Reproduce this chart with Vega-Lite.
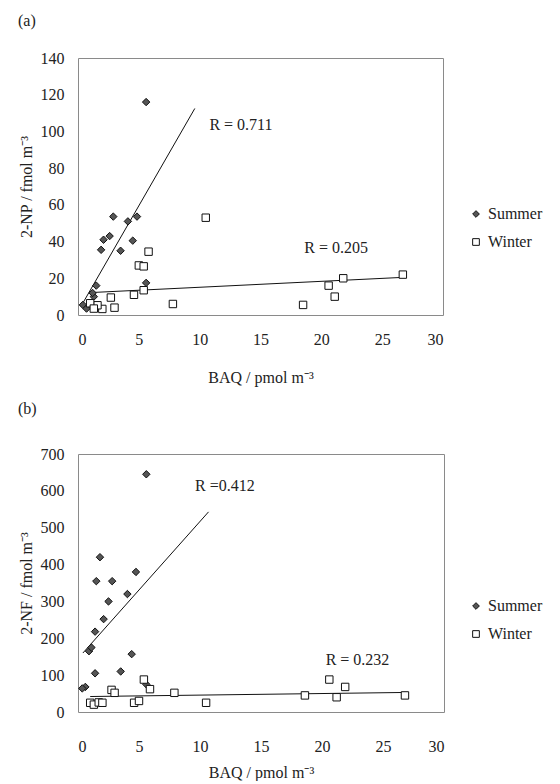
{
  "$schema": "https://vega.github.io/schema/vega-lite/v6.json",
  "background": "white",
  "padding": {"left": 17, "top": 12, "right": 0, "bottom": 0},
  "spacing": 14,
  "config": {
    "font": "Liberation Serif",
    "view": {"stroke": "#8a8a8a", "strokeWidth": 1},
    "axis": {"grid": false, "domain": false, "ticks": false, "labelOverlap": false, "labelFont": "Liberation Serif", "titleFont": "Liberation Serif", "labelFontSize": 16, "titleFontSize": 16, "titleFontWeight": "normal", "labelColor": "#222", "titleColor": "#222"},
    "legend": {"labelFont": "Liberation Serif", "labelFontSize": 16, "labelColor": "#222"},
    "title": {"font": "Liberation Serif", "fontSize": 16, "fontWeight": "normal", "color": "#222", "anchor": "start", "frame": "bounds"}
  },
  "datasets": {
    "points": [
      {"panel": "a", "season": "Summer", "baq": 5.6, "val": 116},
      {"panel": "a", "season": "Summer", "baq": 2.9, "val": 53.6},
      {"panel": "a", "season": "Summer", "baq": 4.85, "val": 53.6},
      {"panel": "a", "season": "Summer", "baq": 4.1, "val": 51},
      {"panel": "a", "season": "Summer", "baq": 2.1, "val": 41},
      {"panel": "a", "season": "Summer", "baq": 2.6, "val": 43},
      {"panel": "a", "season": "Summer", "baq": 1.9, "val": 35.5},
      {"panel": "a", "season": "Summer", "baq": 4.5, "val": 40.5},
      {"panel": "a", "season": "Summer", "baq": 3.5, "val": 35},
      {"panel": "a", "season": "Summer", "baq": 5.6, "val": 17.5},
      {"panel": "a", "season": "Summer", "baq": 1.5, "val": 16},
      {"panel": "a", "season": "Summer", "baq": 1.3, "val": 10},
      {"panel": "a", "season": "Summer", "baq": 1.2, "val": 12},
      {"panel": "a", "season": "Summer", "baq": 0.4, "val": 5.5},
      {"panel": "a", "season": "Summer", "baq": 0.7, "val": 3.5},
      {"panel": "a", "season": "Winter", "baq": 10.5, "val": 53},
      {"panel": "a", "season": "Winter", "baq": 5.8, "val": 34.5},
      {"panel": "a", "season": "Winter", "baq": 5.0, "val": 27},
      {"panel": "a", "season": "Winter", "baq": 5.4, "val": 26.5},
      {"panel": "a", "season": "Winter", "baq": 26.7, "val": 22},
      {"panel": "a", "season": "Winter", "baq": 21.8, "val": 20},
      {"panel": "a", "season": "Winter", "baq": 20.6, "val": 16},
      {"panel": "a", "season": "Winter", "baq": 21.1, "val": 10},
      {"panel": "a", "season": "Winter", "baq": 18.5, "val": 5.5},
      {"panel": "a", "season": "Winter", "baq": 7.8, "val": 6},
      {"panel": "a", "season": "Winter", "baq": 5.4, "val": 13.5},
      {"panel": "a", "season": "Winter", "baq": 4.6, "val": 11},
      {"panel": "a", "season": "Winter", "baq": 2.7, "val": 9.5},
      {"panel": "a", "season": "Winter", "baq": 3.0, "val": 4},
      {"panel": "a", "season": "Winter", "baq": 2.0, "val": 3.3},
      {"panel": "a", "season": "Winter", "baq": 1.6, "val": 5.3},
      {"panel": "a", "season": "Winter", "baq": 1.0, "val": 6.4},
      {"panel": "a", "season": "Winter", "baq": 1.3, "val": 3.5},
      {"panel": "b", "season": "Summer", "baq": 5.6, "val": 645},
      {"panel": "b", "season": "Summer", "baq": 1.8, "val": 420},
      {"panel": "b", "season": "Summer", "baq": 1.5, "val": 355},
      {"panel": "b", "season": "Summer", "baq": 2.8, "val": 355},
      {"panel": "b", "season": "Summer", "baq": 4.75, "val": 380},
      {"panel": "b", "season": "Summer", "baq": 2.5, "val": 300},
      {"panel": "b", "season": "Summer", "baq": 4.05, "val": 320},
      {"panel": "b", "season": "Summer", "baq": 2.1, "val": 252},
      {"panel": "b", "season": "Summer", "baq": 1.4, "val": 218},
      {"panel": "b", "season": "Summer", "baq": 0.9, "val": 165},
      {"panel": "b", "season": "Summer", "baq": 1.1, "val": 175},
      {"panel": "b", "season": "Summer", "baq": 4.4, "val": 157},
      {"panel": "b", "season": "Summer", "baq": 1.4, "val": 105},
      {"panel": "b", "season": "Summer", "baq": 3.5, "val": 110},
      {"panel": "b", "season": "Summer", "baq": 0.6, "val": 68},
      {"panel": "b", "season": "Summer", "baq": 0.35, "val": 64},
      {"panel": "b", "season": "Summer", "baq": 5.6, "val": 75},
      {"panel": "b", "season": "Winter", "baq": 5.4, "val": 88},
      {"panel": "b", "season": "Winter", "baq": 5.9, "val": 62},
      {"panel": "b", "season": "Winter", "baq": 7.9, "val": 52},
      {"panel": "b", "season": "Winter", "baq": 2.75, "val": 60},
      {"panel": "b", "season": "Winter", "baq": 3.0, "val": 52},
      {"panel": "b", "season": "Winter", "baq": 20.6, "val": 88},
      {"panel": "b", "season": "Winter", "baq": 21.9, "val": 68},
      {"panel": "b", "season": "Winter", "baq": 18.6, "val": 45},
      {"panel": "b", "season": "Winter", "baq": 21.2, "val": 40},
      {"panel": "b", "season": "Winter", "baq": 26.8, "val": 45},
      {"panel": "b", "season": "Winter", "baq": 1.0, "val": 25},
      {"panel": "b", "season": "Winter", "baq": 1.3, "val": 20},
      {"panel": "b", "season": "Winter", "baq": 1.7, "val": 26},
      {"panel": "b", "season": "Winter", "baq": 2.0, "val": 25},
      {"panel": "b", "season": "Winter", "baq": 4.6, "val": 25},
      {"panel": "b", "season": "Winter", "baq": 5.0, "val": 30},
      {"panel": "b", "season": "Winter", "baq": 10.5, "val": 25}
    ],
    "lines": [
      {"panel": "a", "season": "Summer", "baq": 0.4, "val": 6.5},
      {"panel": "a", "season": "Summer", "baq": 9.6, "val": 112.5},
      {"panel": "a", "season": "Winter", "baq": 1.0, "val": 12.2},
      {"panel": "a", "season": "Winter", "baq": 26.7, "val": 20.5},
      {"panel": "b", "season": "Summer", "baq": 0.4, "val": 160},
      {"panel": "b", "season": "Summer", "baq": 10.7, "val": 543},
      {"panel": "b", "season": "Winter", "baq": 1.0, "val": 42},
      {"panel": "b", "season": "Winter", "baq": 26.8, "val": 53}
    ],
    "labels": [
      {"panel": "a", "baq": 10.8, "val": 103.5, "text": "R = 0.711"},
      {"panel": "a", "baq": 18.6, "val": 36.5, "text": "R = 0.205"},
      {"panel": "b", "baq": 9.6, "val": 612, "text": "R =0.412"},
      {"panel": "b", "baq": 20.3, "val": 142, "text": "R = 0.232"}
    ]
  },
  "resolve": {"scale": {"color": "independent", "shape": "independent", "fill": "independent"}},
  "vconcat": [
    {
      "title": {"text": "(a)", "offset": 21},
      "width": 365,
      "height": 257,
      "encoding": {
        "x": {"field": "baq", "type": "quantitative", "scale": {"domain": [0, 30]}, "axis": {"values": [0, 5, 10, 15, 20, 25, 30], "labelOverlap": false, "labelPadding": 16, "titlePadding": 22, "title": "BAQ / pmol m⁻³"}},
        "y": {"field": "val", "type": "quantitative", "scale": {"domain": [0, 140]}, "axis": {"values": [0, 20, 40, 60, 80, 100, 120, 140], "labelOverlap": false, "labelPadding": 14, "titlePadding": 6, "title": "2-NP / fmol m⁻³"}}
      },
      "layer": [
        {
          "data": {"name": "lines"},
          "transform": [{"filter": "datum.panel === 'a'"}],
          "mark": {"type": "line", "color": "#111", "strokeWidth": 1},
          "encoding": {"detail": {"field": "season"}}
        },
        {
          "data": {"name": "points"},
          "transform": [{"filter": "datum.panel === 'a'"}],
          "mark": {"type": "point", "filled": false, "size": 55, "strokeWidth": 1, "opacity": 1},
          "encoding": {
            "shape": {"field": "season", "type": "nominal", "scale": {"domain": ["Summer", "Winter"], "range": ["diamond", "square"]}, "legend": {"title": null, "orient": "none", "legendX": 390, "legendY": 148, "rowPadding": 12, "symbolSize": 45, "symbolStrokeWidth": 1}},
            "fill": {"field": "season", "type": "nominal", "scale": {"domain": ["Summer", "Winter"], "range": ["#555555", "#ffffff"]}, "legend": null},
            "stroke": {"value": "#111"}
          }
        },
        {
          "data": {"name": "labels"},
          "transform": [{"filter": "datum.panel === 'a'"}],
          "mark": {"type": "text", "align": "left", "baseline": "middle", "fontSize": 16, "font": "Liberation Serif", "color": "#222"},
          "encoding": {"text": {"field": "text"}}
        }
      ]
    },
    {
      "title": {"text": "(b)", "offset": 29},
      "width": 366,
      "height": 258,
      "encoding": {
        "x": {"field": "baq", "type": "quantitative", "scale": {"domain": [0, 30]}, "axis": {"values": [0, 5, 10, 15, 20, 25, 30], "labelOverlap": false, "labelPadding": 26, "titlePadding": 10, "title": "BAQ / pmol m⁻³"}},
        "y": {"field": "val", "type": "quantitative", "scale": {"domain": [0, 700]}, "axis": {"values": [0, 100, 200, 300, 400, 500, 600, 700], "labelOverlap": false, "labelPadding": 14, "titlePadding": 6, "title": "2-NF / fmol m⁻³"}}
      },
      "layer": [
        {
          "data": {"name": "lines"},
          "transform": [{"filter": "datum.panel === 'b'"}],
          "mark": {"type": "line", "color": "#111", "strokeWidth": 1},
          "encoding": {"detail": {"field": "season"}}
        },
        {
          "data": {"name": "points"},
          "transform": [{"filter": "datum.panel === 'b'"}],
          "mark": {"type": "point", "filled": false, "size": 55, "strokeWidth": 1, "opacity": 1},
          "encoding": {
            "shape": {"field": "season", "type": "nominal", "scale": {"domain": ["Summer", "Winter"], "range": ["diamond", "square"]}, "legend": {"title": null, "orient": "none", "legendX": 390, "legendY": 144, "rowPadding": 12, "symbolSize": 45, "symbolStrokeWidth": 1}},
            "fill": {"field": "season", "type": "nominal", "scale": {"domain": ["Summer", "Winter"], "range": ["#555555", "#ffffff"]}, "legend": null},
            "stroke": {"value": "#111"}
          }
        },
        {
          "data": {"name": "labels"},
          "transform": [{"filter": "datum.panel === 'b'"}],
          "mark": {"type": "text", "align": "left", "baseline": "middle", "fontSize": 16, "font": "Liberation Serif", "color": "#222"},
          "encoding": {"text": {"field": "text"}}
        }
      ]
    }
  ]
}
